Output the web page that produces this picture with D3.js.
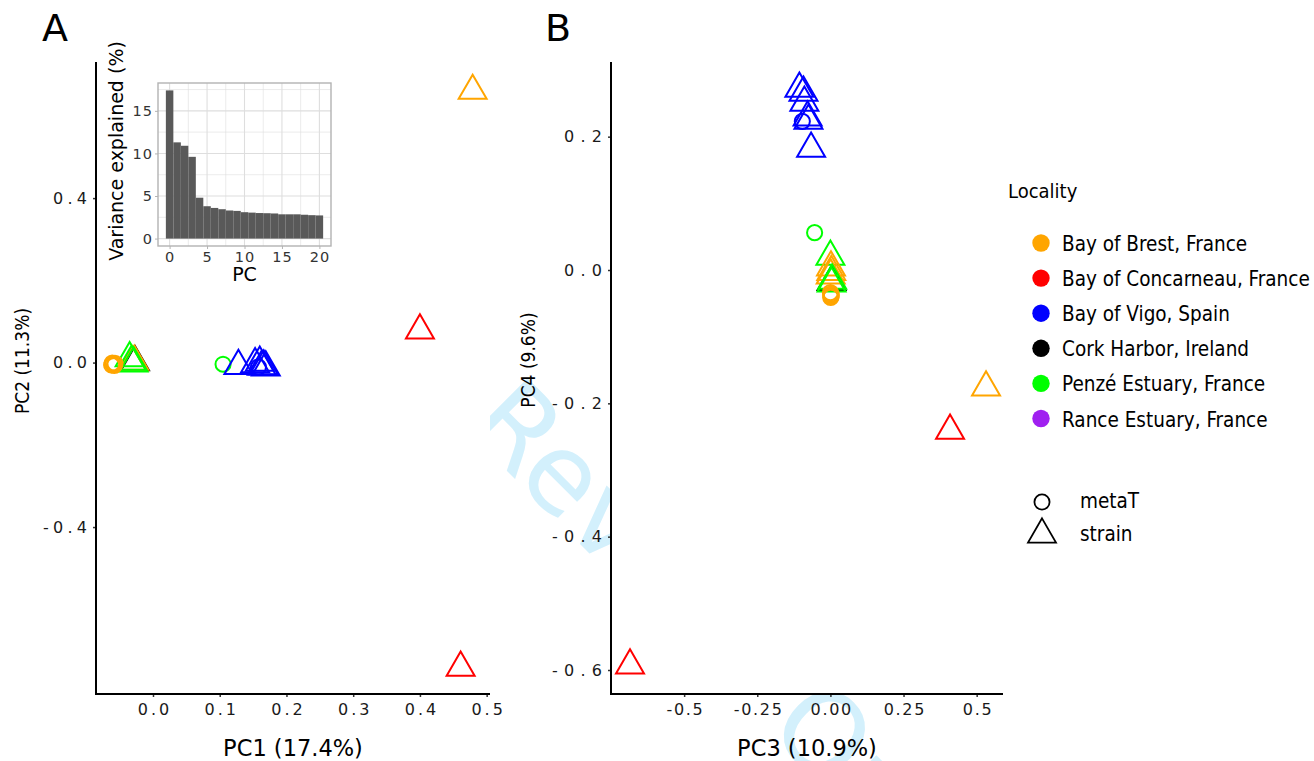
<!DOCTYPE html>
<html>
<head>
<meta charset="utf-8">
<script src="https://cdn.jsdelivr.net/npm/d3@7"></script>
<style>
  body { margin: 0; background: #fff; }
  svg { display: block; }
</style>
</head>
<body>
<div id="chart"></div>
<script>
// ---- data ----
const localities = ["Bay of Brest, France", "Bay of Concarneau, France", "Bay of Vigo, Spain",
                    "Cork Harbor, Ireland", "Penzé Estuary, France", "Rance Estuary, France"];
const localityColors = ["#FFA500", "#FF0000", "#0000FF", "#000000", "#00FF00", "#A020F0"];
const sampleTypes = ["metaT", "strain"];

// one entry per sample (drawn in this order)
const sampleLocality = [
  "Cork Harbor, Ireland", "Penzé Estuary, France", "Bay of Brest, France", "Bay of Brest, France",
  "Bay of Brest, France", "Penzé Estuary, France", "Penzé Estuary, France",
  "Bay of Brest, France", "Bay of Brest, France", "Bay of Brest, France",
  "Bay of Brest, France", "Bay of Brest, France",
  "Penzé Estuary, France",
  "Bay of Vigo, Spain", "Bay of Vigo, Spain", "Bay of Vigo, Spain", "Bay of Vigo, Spain",
  "Bay of Vigo, Spain", "Bay of Vigo, Spain", "Bay of Vigo, Spain",
  "Bay of Brest, France", "Bay of Concarneau, France", "Bay of Concarneau, France"
];
const sampleType = [
  "strain", "strain", "strain", "strain",
  "strain", "strain", "strain",
  "metaT", "metaT", "metaT",
  "metaT", "metaT",
  "metaT",
  "strain", "strain", "strain", "strain",
  "strain", "strain", "metaT",
  "strain", "strain", "strain"
];
const pc1 = [-0.027, -0.035, -0.030, -0.028, -0.031, -0.032, -0.029,
             -0.060, -0.057, -0.062, -0.058, -0.061,
             0.105,
             0.128, 0.153, 0.160, 0.169, 0.163, 0.166, 0.158,
             0.479, 0.400, 0.461];
const pc2 = [0.001, 0.011, -0.001, 0.002, 0.000, 0.002, -0.002,
             -0.004, -0.002, -0.006, -0.007, -0.001,
             -0.004,
             -0.008, -0.004, 0.000, -0.012, -0.010, -0.009, -0.011,
             0.661, 0.078, -0.742];
const pc3 = [0.004, 0.000, 0.002, 0.003, 0.001, 0.006, 0.004,
             0.002, 0.001, 0.003, 0.000, 0.002,
             -0.054,
             -0.106, -0.092, -0.089, -0.075, -0.078, -0.066, -0.096,
             0.532, 0.409, -0.685];
const pc4 = [-0.018, 0.020, 0.004, -0.003, -0.008, -0.016, -0.020,
             -0.036, -0.041, -0.038, -0.034, -0.040,
             0.056,
             0.272, 0.266, 0.251, 0.224, 0.229, 0.182, 0.223,
             -0.176, -0.241, -0.593];

// scree plot (inset)
const screePC = [0, 1, 2, 3, 4, 5, 6, 7, 8, 9, 10, 11, 12, 13, 14, 15, 16, 17, 18, 19, 20];
const screeVariance = [17.4, 11.3, 10.9, 9.6, 4.8, 3.8, 3.6, 3.45, 3.3, 3.25, 3.1,
                       3.05, 3.0, 2.98, 2.95, 2.85, 2.85, 2.85, 2.8, 2.75, 2.72];

// tick values / labels
const pc1Ticks = [0, 0.1, 0.2, 0.3, 0.4, 0.5];
const pc1Labels = ["0.0", "0.1", "0.2", "0.3", "0.4", "0.5"];
const pc2Ticks = [-0.4, 0, 0.4];
const pc2Labels = ["-0.4", "0.0", "0.4"];
const pc3Ticks = [-0.5, -0.25, 0, 0.25, 0.5];
const pc3Labels = ["-0.5", "-0.25", "0.00", "0.25", "0.5"];
const pc4Ticks = [-0.6, -0.4, -0.2, 0, 0.2];
const pc4Labels = ["-0.6", "-0.4", "-0.2", "0.0", "0.2"];
const screeYTicks = [0, 5, 10, 15];
const screeXTicks = [0, 5, 10, 15, 20];

// ---- setup ----
const width = 1314, height = 761;
const font = "'DejaVu Sans', Verdana, sans-serif";

const svg = d3.select("#chart").append("svg")
  .attr("width", width)
  .attr("height", height)
  .style("font-family", font);

const samples = sampleLocality.map((loc, i) => ({
  loc, type: sampleType[i], pc1: pc1[i], pc2: pc2[i], pc3: pc3[i], pc4: pc4[i]
}));

const color = d3.scaleOrdinal().domain(localities).range(localityColors);
const shape = d3.symbol()
  .type(d => d.type === "metaT" ? d3.symbolCircle : d3.symbolTriangle2)
  .size(d => d.type === "metaT" ? 180 : 560);

// watermark behind everything (only shows outside the panels)
svg.append("text")
  .attr("transform", "translate(317,281) rotate(45)")
  .attr("font-size", 110)
  .attr("fill", "#d3f0fc")
  .text("For Review Only");

// panel boxes
const panelA = { left: 96, right: 490, top: 62, bottom: 694 };
const panelB = { left: 611, right: 1003, top: 62, bottom: 694 };

[panelA, panelB].forEach(p => {
  svg.append("rect")
    .attr("x", p.left).attr("y", p.top)
    .attr("width", p.right - p.left).attr("height", p.bottom - p.top)
    .attr("fill", "#fff");
});

const xA = d3.scaleLinear().domain([-0.0854, 0.505]).range([panelA.left, panelA.right]);
const yA = d3.scaleLinear().domain([-0.806, 0.731]).range([panelA.bottom, panelA.top]);
const xB = d3.scaleLinear().domain([-0.750, 0.590]).range([panelB.left, panelB.right]);
const yB = d3.scaleLinear().domain([-0.636, 0.312]).range([panelB.bottom, panelB.top]);

// draw axes the ggplot-classic way
function drawAxes(p, x, y, xTicks, xLabels, yTicks, yLabels, xSpacing, ySpacing) {
  const g = svg.append("g");
  const xAxis = d3.axisBottom(x).tickValues(xTicks)
    .tickFormat((d, i) => xLabels[i]).tickSize(3).tickPadding(7);
  const yAxis = d3.axisLeft(y).tickValues(yTicks)
    .tickFormat((d, i) => yLabels[i]).tickSize(3).tickPadding(6);

  const gx = g.append("g").attr("transform", `translate(0,${p.bottom})`).call(xAxis);
  const gy = g.append("g").attr("transform", `translate(${p.left},0)`).call(yAxis);

  [gx, gy].forEach(a => {
    a.select(".domain").remove();
    a.selectAll(".tick line").attr("stroke", "#333").attr("stroke-width", 1.5);
    a.selectAll(".tick text")
      .attr("fill", "#1a1a1a")
      .attr("font-size", 16)
      .attr("font-family", font);
  });
  gx.selectAll(".tick text")
    .attr("letter-spacing", xSpacing)
    .attr("dx", xSpacing / 2);
  gy.selectAll(".tick text")
    .attr("letter-spacing", ySpacing)
    .attr("dx", ySpacing);

  g.append("line")
    .attr("x1", p.left).attr("x2", p.left)
    .attr("y1", p.top).attr("y2", p.bottom + 1)
    .attr("stroke", "#000").attr("stroke-width", 2);
  g.append("line")
    .attr("x1", p.left - 1).attr("x2", p.right)
    .attr("y1", p.bottom).attr("y2", p.bottom)
    .attr("stroke", "#000").attr("stroke-width", 2);
}

drawAxes(panelA, xA, yA, pc1Ticks, pc1Labels, pc2Ticks, pc2Labels, 3, 4.3);
drawAxes(panelB, xB, yB, pc3Ticks, pc3Labels, pc4Ticks, pc4Labels, 1.7, 6.3);

// axis titles
svg.append("text").attr("x", 293).attr("y", 756).attr("text-anchor", "middle")
  .attr("font-size", 22.5).text("PC1 (17.4%)");
svg.append("text").attr("x", 807).attr("y", 756).attr("text-anchor", "middle")
  .attr("font-size", 22.5).text("PC3 (10.9%)");
svg.append("text").attr("transform", "translate(29,361) rotate(-90)").attr("text-anchor", "middle")
  .attr("font-size", 19).style("font-stretch", "condensed").text("PC2 (11.3%)");
svg.append("text").attr("transform", "translate(535,360) rotate(-90)").attr("text-anchor", "middle")
  .attr("font-size", 19).style("font-stretch", "condensed").text("PC4 (9.6%)");

// panel tags
svg.append("text").attr("x", 55).attr("y", 41).attr("text-anchor", "middle")
  .attr("font-size", 38).text("A");
svg.append("text").attr("x", 558).attr("y", 41).attr("text-anchor", "middle")
  .attr("font-size", 38).text("B");

// ---- scree inset ----
const inset = { left: 158, right: 331, top: 83, bottom: 246 };
const xS = d3.scaleLinear().domain([-1.55, 21.55]).range([inset.left, inset.right]);
const yS = d3.scaleLinear().domain([-0.87, 18.27]).range([inset.bottom, inset.top]);
const gS = svg.append("g");

const minorY = [2.5, 7.5, 12.5, 17.5];
const minorX = [2.5, 7.5, 12.5, 17.5];
gS.selectAll(".gy").data(screeYTicks.concat(minorY)).join("line")
  .attr("x1", inset.left).attr("x2", inset.right)
  .attr("y1", d => yS(d)).attr("y2", d => yS(d))
  .attr("stroke", "#dedede").attr("stroke-width", d => minorY.includes(d) ? 0.6 : 1.1);
gS.selectAll(".gx").data(screeXTicks.concat(minorX)).join("line")
  .attr("y1", inset.top).attr("y2", inset.bottom)
  .attr("x1", d => xS(d)).attr("x2", d => xS(d))
  .attr("stroke", "#dedede").attr("stroke-width", d => minorX.includes(d) ? 0.6 : 1.1);

gS.selectAll(".bar").data(screePC).join("rect")
  .attr("x", d => xS(d - 0.5))
  .attr("width", d => xS(d + 0.5) - xS(d - 0.5))
  .attr("y", (d, i) => yS(screeVariance[i]))
  .attr("height", (d, i) => yS(0) - yS(screeVariance[i]))
  .attr("fill", "#595959");

gS.append("rect")
  .attr("x", inset.left).attr("y", inset.top)
  .attr("width", inset.right - inset.left).attr("height", inset.bottom - inset.top)
  .attr("fill", "none").attr("stroke", "#b3b3b3").attr("stroke-width", 1.4);

const sxAxis = gS.append("g").attr("transform", `translate(0,${inset.bottom})`)
  .call(d3.axisBottom(xS).tickValues(screeXTicks).tickSize(3).tickPadding(3));
const syAxis = gS.append("g").attr("transform", `translate(${inset.left},0)`)
  .call(d3.axisLeft(yS).tickValues(screeYTicks).tickSize(3).tickPadding(3));
[sxAxis, syAxis].forEach(a => {
  a.select(".domain").remove();
  a.selectAll(".tick line").attr("stroke", "#b3b3b3");
  a.selectAll(".tick text").attr("fill", "#333").attr("font-size", 14.5)
    .attr("font-family", font).attr("letter-spacing", 1);
});
syAxis.selectAll(".tick text").attr("dx", 1);

gS.append("text").attr("x", (inset.left + inset.right) / 2).attr("y", 281)
  .attr("text-anchor", "middle").attr("font-size", 19).text("PC");
gS.append("text").attr("transform", "translate(123,151) rotate(-90)")
  .attr("text-anchor", "middle").attr("font-size", 19).text("Variance explained (%)");

// ---- points ----
svg.append("g").selectAll("path").data(samples).join("path")
  .attr("transform", d => `translate(${xA(d.pc1)},${yA(d.pc2)})`)
  .attr("d", shape)
  .attr("fill", "none")
  .attr("stroke", d => color(d.loc))
  .attr("stroke-width", 2);

svg.append("g").selectAll("path").data(samples).join("path")
  .attr("transform", d => `translate(${xB(d.pc3)},${yB(d.pc4)})`)
  .attr("d", shape)
  .attr("fill", "none")
  .attr("stroke", d => color(d.loc))
  .attr("stroke-width", 2);

// ---- legend ----
const lg = svg.append("g").style("font-stretch", "condensed");
lg.append("text").attr("x", 1008).attr("y", 198).attr("font-size", 20).text("Locality");

const items = lg.selectAll(".item").data(localities).join("g")
  .attr("transform", (d, i) => `translate(1041,${243 + i * 35.1})`);
items.append("circle").attr("r", 8.7).attr("fill", d => color(d));
items.append("text").attr("x", 21).attr("y", 8).attr("font-size", 20.5).text(d => d);

const shapeItems = lg.selectAll(".shape").data(sampleTypes).join("g")
  .attr("transform", (d, i) => `translate(1042,${i === 0 ? 502 : 534.5})`);
shapeItems.append("path")
  .attr("d", d => shape({ type: d }))
  .attr("fill", "none").attr("stroke", "#000").attr("stroke-width", 1.8);
shapeItems.append("text").attr("x", 38).attr("y", 6)
  .attr("font-size", 20.5).text(d => d);
</script>
</body>
</html>
